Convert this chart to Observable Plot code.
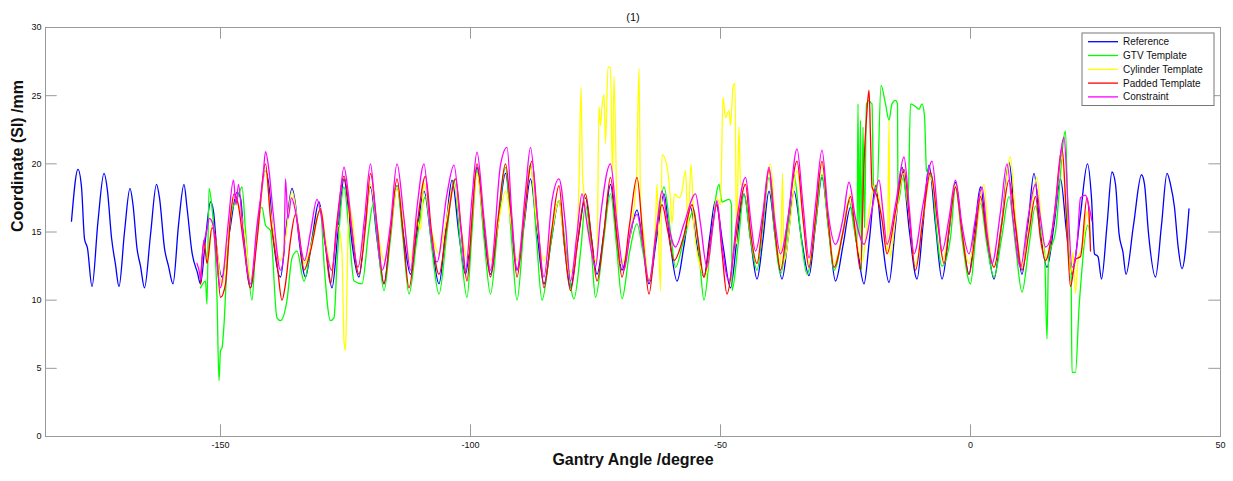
<!DOCTYPE html>
<html><head><meta charset="utf-8">
<script src="https://cdn.jsdelivr.net/npm/d3@7"></script>
<script src="https://cdn.jsdelivr.net/npm/@observablehq/plot@0.6"></script>
<style>body{margin:0;background:#fff;}</style>
</head><body><div id="chart"></div>
<script>
const titleText = "(1)";
const xLabel = "Gantry Angle /degree";
const yLabel = "Coordinate (SI) /mm";
const angleTicks = [-150, -100, -50, 0, 50];
const angleTickLabels = ["-150", "-100", "-50", "0", "50"];
const coordTicks = [0, 5, 10, 15, 20, 25, 30];
const coordTickLabels = ["0", "5", "10", "15", "20", "25", "30"];
const seriesNames = ["Reference", "GTV Template", "Cylinder Template", "Padded Template", "Constraint"];

const reference = [[-179.8,15.8],[-178.5,19.6],[-177.8,18.3],[-177.2,14.5],[-176.6,13.8],[-175.7,11.0],[-174.5,15.8],[-173.3,19.3],[-172.6,18.0],[-171.8,14.6],[-171.0,12.6],[-170.3,11.0],[-169.2,15.0],[-168.1,18.2],[-167.5,17.0],[-166.7,13.8],[-166.0,12.5],[-165.2,10.9],[-164.0,14.8],[-162.8,18.5],[-162.2,17.5],[-161.2,13.8],[-160.4,12.5],[-159.5,11.2],[-158.4,15.5],[-157.3,18.5],[-156.7,16.8],[-155.7,13.5],[-154.6,12.0],[-154.0,11.2],[-153.0,14.5],[-152.0,17.2],[-151.4,16.5],[-150.8,14.0],[-149.7,11.7],[-148.2,15.0],[-146.7,17.9],[-146.0,17.5],[-145.3,14.5],[-144.0,10.9],[-142.5,15.5],[-141.0,19.5],[-140.2,18.0],[-139.5,14.8],[-138.0,11.7],[-136.8,15.5],[-135.7,18.2],[-135.0,17.0],[-134.3,14.5],[-133.0,11.7],[-131.7,14.5],[-130.3,17.2],[-129.0,14.0],[-127.7,10.9],[-126.5,15.0],[-125.3,18.9],[-124.5,17.0],[-123.8,14.5],[-122.3,11.7],[-121.2,15.0],[-120.0,18.3],[-118.7,14.5],[-117.3,11.2],[-116.0,15.0],[-114.7,18.4],[-113.3,14.5],[-112.0,11.9],[-110.7,15.0],[-109.3,18.0],[-107.8,14.3],[-106.3,11.2],[-105.0,15.0],[-103.7,18.8],[-102.3,14.8],[-101.0,11.9],[-99.8,15.5],[-98.7,19.75],[-97.3,15.0],[-96.0,11.9],[-94.5,15.5],[-93.0,19.3],[-91.8,15.5],[-90.7,12.2],[-89.3,15.5],[-88.0,18.9],[-86.7,15.0],[-85.3,11.2],[-83.8,14.5],[-82.3,17.3],[-81.2,14.0],[-80.0,10.9],[-78.5,14.5],[-77.0,17.5],[-75.8,14.5],[-74.7,11.9],[-73.3,15.0],[-72.0,18.5],[-70.8,14.8],[-69.7,12.2],[-68.2,14.5],[-66.7,16.6],[-65.5,14.0],[-64.3,11.2],[-62.8,14.5],[-61.3,17.8],[-60.0,14.0],[-58.7,11.4],[-57.3,14.0],[-56.0,16.8],[-54.7,14.0],[-53.3,11.7],[-52.2,14.5],[-51.0,17.3],[-49.5,14.0],[-48.0,10.9],[-46.7,14.5],[-45.3,17.8],[-44.0,14.5],[-42.7,11.55],[-41.5,14.5],[-40.3,18.0],[-39.0,14.5],[-37.7,11.55],[-36.5,14.5],[-35.3,18.0],[-33.8,14.5],[-32.3,11.8],[-31.0,15.5],[-29.7,19.0],[-28.3,15.0],[-27.0,11.4],[-25.5,14.0],[-24.0,16.8],[-22.7,14.0],[-21.3,11.2],[-20.2,14.5],[-19.0,18.4],[-17.7,14.5],[-16.3,11.3],[-15.0,15.5],[-13.7,19.75],[-12.2,15.0],[-10.7,11.55],[-9.5,15.5],[-8.3,19.9],[-7.0,15.5],[-5.7,11.55],[-4.3,15.0],[-3.0,18.65],[-1.7,15.0],[-0.3,11.9],[0.8,15.0],[2.0,18.3],[3.3,14.5],[4.7,11.55],[6.2,15.5],[7.7,20.1],[9.0,15.5],[10.3,11.9],[11.5,15.5],[12.7,19.3],[14.0,15.0],[15.3,12.4],[16.7,15.5],[18.0,18.9],[19.2,15.0],[20.3,11.9],[21.9,16.0],[23.4,20.0],[24.2,17.5],[24.8,13.4],[25.5,13.2],[26.2,11.55],[27.3,15.5],[28.3,19.4],[29.0,18.5],[29.7,14.9],[30.5,13.5],[31.1,11.9],[32.6,15.5],[34.2,19.2],[34.8,18.5],[35.6,14.9],[37.0,11.7],[38.2,15.5],[39.3,19.3],[40.0,18.5],[40.8,16.8],[41.5,14.0],[42.3,12.3],[43.7,16.7]];

const gtvTemplate = [[-154.0,10.9],[-153.0,11.4],[-152.7,9.7],[-152.3,18.2],[-151.7,16.8],[-151.3,15.1],[-150.7,10.2],[-150.3,4.1],[-150.0,6.3],[-149.7,6.5],[-149.3,8.2],[-148.7,12.7],[-147.7,16.6],[-146.7,17.4],[-145.7,18.3],[-145.0,15.1],[-143.7,10.0],[-143.0,13.9],[-141.7,16.8],[-141.0,15.5],[-140.0,15.1],[-138.7,8.7],[-138.0,8.5],[-136.7,10.0],[-135.7,13.1],[-134.7,13.6],[-133.3,11.4],[-131.7,14.4],[-130.0,16.6],[-129.3,12.7],[-128.0,8.5],[-127.3,8.7],[-126.7,12.7],[-125.3,18.3],[-124.3,15.1],[-123.3,11.4],[-121.7,11.2],[-120.3,15.3],[-119.5,17.0],[-118.5,14.0],[-117.3,10.7],[-116.0,14.5],[-114.7,18.3],[-113.5,14.5],[-112.3,10.45],[-110.7,14.5],[-109.0,17.6],[-107.8,14.0],[-106.3,10.45],[-104.7,15.0],[-103.3,18.8],[-102.0,14.0],[-100.7,10.2],[-99.7,15.0],[-98.7,19.5],[-97.3,14.5],[-96.0,10.45],[-94.5,15.5],[-93.0,19.75],[-91.8,14.5],[-90.7,10.0],[-89.3,15.5],[-88.0,20.0],[-86.8,14.5],[-85.7,10.0],[-84.0,14.0],[-82.3,17.3],[-81.0,14.0],[-79.3,10.1],[-78.0,13.5],[-77.0,17.0],[-75.8,13.5],[-75.0,10.2],[-73.5,14.0],[-72.0,17.8],[-70.8,14.0],[-69.7,10.1],[-68.2,13.5],[-66.7,15.6],[-65.5,13.5],[-64.3,11.4],[-62.8,15.0],[-61.3,18.3],[-60.0,15.0],[-59.0,12.4],[-57.3,14.5],[-55.3,16.6],[-54.3,13.5],[-53.3,10.0],[-52.0,14.0],[-50.3,18.5],[-49.7,17.2],[-48.3,17.4],[-47.8,17.0],[-47.7,10.7],[-46.5,14.0],[-45.3,17.8],[-44.0,14.5],[-42.7,12.2],[-41.5,15.5],[-40.3,19.0],[-39.2,15.0],[-38.0,11.9],[-36.5,15.5],[-35.3,19.2],[-34.0,15.0],[-32.7,11.9],[-31.0,15.5],[-29.7,19.2],[-28.5,15.5],[-27.3,12.2],[-25.5,15.0],[-24.3,17.3],[-23.3,15.3],[-22.7,14.1],[-22.5,24.4],[-22.3,14.8],[-22.0,23.2],[-21.8,12.2],[-21.5,22.7],[-21.2,15.3],[-20.8,24.4],[-20.3,24.65],[-20.0,24.5],[-19.7,24.4],[-19.4,18.5],[-18.7,18.0],[-17.9,25.75],[-17.0,24.4],[-16.3,23.2],[-15.7,24.4],[-15.0,24.65],[-14.6,24.4],[-14.5,17.1],[-13.5,19.0],[-12.5,17.0],[-12.0,24.4],[-11.0,24.2],[-10.3,24.0],[-9.7,24.4],[-9.2,23.5],[-8.8,19.5],[-7.7,19.0],[-7.0,16.0],[-5.7,12.5],[-4.0,14.6],[-3.0,18.3],[-1.7,14.5],[0.0,11.2],[1.0,14.5],[2.0,17.1],[3.3,14.0],[4.7,11.7],[6.2,14.5],[7.7,17.6],[9.0,14.0],[10.3,10.6],[11.7,14.0],[13.0,16.9],[14.0,15.0],[14.8,13.6],[15.3,7.15],[15.6,13.0],[17.0,15.0],[19.0,22.4],[19.7,13.1],[20.1,12.3],[20.3,4.7],[21.0,4.7],[21.7,9.4],[22.3,12.3],[22.7,14.0],[23.5,15.5],[24.0,14.5]];

const cylinderTemplate = [[-154.0,11.5],[-153.3,14.0],[-152.5,13.0],[-151.7,15.5],[-150.8,14.0],[-149.7,11.0],[-148.5,14.5],[-147.3,17.5],[-146.0,16.5],[-145.0,14.5],[-144.0,11.5],[-142.5,15.1],[-141.0,19.5],[-140.0,16.5],[-138.0,12.9],[-137.0,14.5],[-135.7,18.0],[-134.5,15.5],[-133.3,12.7],[-131.5,14.5],[-130.0,16.8],[-129.0,14.5],[-127.7,12.2],[-126.5,15.5],[-125.7,13.4],[-125.3,7.0],[-125.0,6.3],[-124.7,11.0],[-124.3,17.0],[-123.5,15.5],[-122.7,12.4],[-121.0,15.3],[-120.0,18.5],[-118.7,15.5],[-117.3,12.9],[-116.0,15.0],[-114.7,18.3],[-113.3,15.5],[-112.0,12.9],[-110.7,15.9],[-110.0,15.2],[-109.3,18.6],[-108.0,15.5],[-106.3,13.4],[-105.0,15.5],[-103.3,18.5],[-102.0,15.5],[-100.7,13.1],[-99.7,16.0],[-98.7,19.3],[-97.3,15.5],[-96.0,12.9],[-94.5,15.5],[-93.0,18.0],[-91.8,15.5],[-90.7,12.9],[-89.3,16.0],[-88.0,19.75],[-86.7,15.5],[-85.3,12.9],[-83.8,15.0],[-82.3,17.3],[-81.5,15.0],[-80.3,12.0],[-79.0,13.0],[-78.3,18.6],[-77.9,25.6],[-77.6,19.3],[-77.3,17.8],[-76.0,14.0],[-75.3,13.1],[-74.7,12.8],[-74.3,24.2],[-74.0,22.8],[-73.7,24.2],[-73.3,25.1],[-73.0,21.5],[-72.5,27.1],[-72.0,27.1],[-71.6,19.0],[-71.3,26.4],[-70.8,18.0],[-70.7,16.1],[-70.0,12.7],[-68.5,14.0],[-66.8,19.0],[-66.3,27.0],[-66.0,17.3],[-65.3,14.6],[-64.3,11.4],[-63.0,15.6],[-62.7,18.5],[-62.3,13.6],[-62.0,10.7],[-61.7,20.7],[-60.8,20.0],[-60.0,17.3],[-59.7,15.6],[-59.2,17.8],[-58.3,17.5],[-57.7,18.0],[-57.0,19.5],[-56.5,15.3],[-55.9,20.0],[-55.3,15.3],[-54.0,12.4],[-53.0,11.7],[-51.7,15.0],[-50.7,17.5],[-50.0,17.0],[-49.5,24.9],[-49.0,23.4],[-48.3,23.9],[-48.0,22.8],[-47.5,25.6],[-47.1,25.9],[-46.8,14.1],[-46.3,22.7],[-46.0,18.5],[-45.0,18.5],[-44.0,15.0],[-42.7,12.7],[-41.5,16.0],[-40.0,20.0],[-39.0,15.5],[-38.0,12.5],[-37.6,19.3],[-37.3,12.8],[-36.0,16.0],[-34.7,19.5],[-33.5,16.0],[-32.3,12.7],[-31.0,16.0],[-29.7,20.0],[-28.5,16.0],[-27.3,12.7],[-25.5,15.0],[-24.0,17.8],[-23.0,15.0],[-21.7,12.8],[-20.5,16.0],[-19.0,18.5],[-17.7,16.0],[-16.6,13.5],[-16.3,23.2],[-16.1,13.1],[-15.0,16.0],[-13.3,19.3],[-12.2,16.0],[-11.0,12.5],[-9.5,16.0],[-8.0,19.0],[-6.5,15.5],[-5.5,13.0],[-4.2,15.5],[-3.0,18.5],[-1.7,15.0],[-0.3,12.7],[1.0,15.0],[2.7,18.5],[3.5,15.0],[4.7,12.4],[6.2,15.5],[8.0,20.5],[9.0,16.0],[10.3,12.4],[11.7,15.5],[13.3,19.0],[14.2,15.5],[15.0,13.0],[16.7,16.0],[18.3,20.5],[19.2,16.0],[20.0,12.0],[20.5,13.5],[21.0,10.5],[21.5,13.0],[22.5,14.0],[23.3,16.5],[24.0,14.5]];

const paddedTemplate = [[-154.0,11.2],[-153.3,14.4],[-152.7,12.7],[-151.7,15.3],[-151.0,14.6],[-150.0,10.2],[-149.0,11.2],[-148.0,16.1],[-147.3,17.8],[-146.5,17.1],[-145.3,13.9],[-144.0,10.9],[-142.7,14.4],[-141.0,20.0],[-140.0,16.0],[-138.7,12.7],[-137.7,10.0],[-137.0,11.2],[-136.0,14.4],[-135.0,16.3],[-134.3,15.0],[-133.3,12.2],[-132.0,13.6],[-130.0,16.7],[-129.0,14.0],[-128.0,11.2],[-126.7,15.8],[-125.3,19.1],[-124.0,15.8],[-122.3,11.9],[-121.0,15.4],[-120.0,19.3],[-118.7,15.5],[-117.3,11.2],[-116.0,15.0],[-114.7,18.9],[-113.5,15.0],[-112.3,10.9],[-110.7,15.5],[-109.0,19.1],[-107.8,15.0],[-106.3,11.9],[-104.7,15.5],[-103.0,18.9],[-101.8,15.0],[-100.7,11.4],[-99.7,16.0],[-98.7,20.0],[-97.3,15.5],[-96.0,11.7],[-94.5,16.0],[-93.0,20.0],[-91.8,16.0],[-90.7,11.7],[-89.3,16.0],[-87.7,20.2],[-86.5,15.5],[-85.3,10.9],[-83.8,15.0],[-82.3,18.4],[-81.2,14.0],[-80.0,10.7],[-78.5,14.5],[-77.0,17.8],[-75.8,14.5],[-74.7,11.4],[-73.3,15.0],[-72.0,19.0],[-70.8,15.0],[-69.7,11.7],[-68.2,15.5],[-66.7,19.0],[-65.5,14.5],[-64.3,10.45],[-63.0,14.5],[-61.7,17.0],[-60.5,15.0],[-59.3,12.9],[-57.5,14.5],[-55.7,17.0],[-54.5,14.5],[-53.3,11.7],[-52.0,14.5],[-50.7,17.0],[-49.7,13.5],[-48.7,10.45],[-47.0,14.5],[-45.0,18.5],[-44.0,15.0],[-42.7,12.7],[-41.5,16.0],[-40.3,19.6],[-39.2,15.5],[-38.0,12.2],[-36.5,16.0],[-34.7,20.2],[-33.5,16.0],[-32.3,12.4],[-31.0,16.0],[-29.7,20.2],[-28.5,16.0],[-27.3,12.4],[-25.5,15.0],[-24.0,17.6],[-23.0,14.9],[-22.0,12.2],[-21.3,20.0],[-20.7,23.9],[-20.3,25.4],[-20.0,21.95],[-19.7,18.3],[-18.7,17.6],[-17.7,15.9],[-16.7,13.4],[-15.0,16.5],[-13.3,19.6],[-12.2,16.0],[-11.0,12.2],[-9.5,16.0],[-8.0,19.4],[-6.5,15.5],[-5.3,12.7],[-4.2,15.5],[-3.0,18.3],[-1.7,15.0],[-0.3,11.9],[1.0,15.0],[2.0,17.6],[3.3,14.5],[4.7,12.4],[6.2,15.5],[7.7,18.8],[9.0,15.5],[10.3,12.2],[11.7,15.0],[13.0,17.6],[14.0,14.5],[15.0,12.9],[16.7,16.0],[18.3,21.2],[19.2,16.0],[20.0,11.0],[21.0,13.0],[22.0,13.2],[23.3,17.5],[23.7,16.4],[24.0,13.6]];

const constraint = [[-154.7,12.7],[-154.2,12.0],[-154.0,11.5],[-153.5,13.8],[-152.8,15.0],[-152.2,16.0],[-151.5,15.5],[-150.8,13.0],[-150.0,10.9],[-149.5,11.8],[-148.5,15.5],[-147.4,18.8],[-146.9,17.0],[-146.4,18.5],[-145.5,15.0],[-144.0,11.2],[-142.7,15.5],[-141.5,19.0],[-141.0,20.9],[-140.3,19.5],[-139.5,16.5],[-138.0,12.2],[-137.3,13.5],[-137.0,18.9],[-136.5,16.0],[-135.8,17.5],[-135.0,16.5],[-134.0,14.0],[-133.2,12.9],[-132.0,15.0],[-130.7,17.4],[-130.0,16.5],[-129.0,14.0],[-127.8,12.2],[-126.5,16.0],[-125.3,19.75],[-124.5,18.0],[-123.8,15.5],[-122.5,12.4],[-121.2,16.0],[-120.0,20.0],[-119.0,16.3],[-117.7,12.2],[-116.0,15.6],[-114.7,20.0],[-113.3,16.0],[-112.0,12.2],[-110.7,16.8],[-109.3,20.0],[-108.0,15.1],[-106.7,12.8],[-104.7,17.8],[-103.3,19.9],[-102.0,15.5],[-101.0,12.2],[-99.7,17.5],[-98.7,20.85],[-97.3,16.0],[-96.0,12.2],[-94.0,19.9],[-92.7,21.2],[-91.7,16.0],[-90.7,12.2],[-89.0,18.0],[-88.0,21.2],[-86.7,16.3],[-85.3,11.7],[-83.7,17.3],[-82.3,18.9],[-81.0,15.5],[-80.0,11.4],[-78.7,14.9],[-77.7,17.8],[-76.7,15.6],[-75.5,13.0],[-75.0,12.4],[-74.0,16.1],[-72.0,20.0],[-70.7,15.6],[-69.3,12.2],[-68.0,15.1],[-66.7,16.3],[-65.5,14.0],[-64.3,11.4],[-62.7,15.6],[-61.7,18.0],[-60.7,16.0],[-59.0,13.9],[-57.3,15.6],[-55.0,17.8],[-54.0,15.6],[-52.7,12.4],[-51.5,15.5],[-50.7,17.3],[-49.7,14.0],[-48.3,11.4],[-46.7,16.0],[-45.0,19.0],[-44.0,16.0],[-43.0,13.6],[-41.5,16.5],[-40.3,19.75],[-39.2,16.0],[-38.0,13.4],[-36.5,16.0],[-34.7,21.1],[-33.5,17.0],[-32.3,13.1],[-31.0,17.0],[-29.7,21.0],[-28.5,16.5],[-27.0,14.1],[-25.5,16.0],[-24.3,18.65],[-23.0,16.0],[-21.3,14.1],[-19.8,16.5],[-18.3,18.8],[-17.5,16.5],[-16.7,14.1],[-15.0,17.0],[-13.3,20.5],[-12.3,17.0],[-11.3,13.4],[-9.5,17.0],[-7.7,20.2],[-6.5,16.0],[-5.7,13.6],[-4.3,16.0],[-3.0,18.8],[-1.7,15.5],[-0.3,13.4],[1.0,16.0],[2.3,18.3],[3.3,15.0],[4.3,12.7],[6.0,16.5],[7.3,20.0],[8.5,16.0],[10.0,12.4],[11.5,16.0],[13.0,18.5],[14.0,16.0],[15.0,13.9],[16.0,14.5],[17.0,17.0],[18.7,21.95],[19.5,17.0],[20.3,12.4],[21.3,14.0],[22.0,17.5],[23.0,17.7],[23.6,17.0],[24.3,15.8]];

const seriesData = [reference, gtvTemplate, cylinderTemplate, paddedTemplate, constraint];

// ---- styling / layout ----
const W = 1233, H = 481, mL = 45, mR = 13, mT = 27, mB = 45;
const plotW = W - mL - mR, plotH = H - mT - mB;
const tickLen = 11.7;
const axisColor = "#9a9a9a";
const seriesColors = ["#0000ff", "#00ff00", "#ffff00", "#ff0000", "#ff00ff"];
const font = "'Liberation Sans', Arial, Helvetica, sans-serif";

const rows = seriesNames.flatMap((name, i) =>
  seriesData[i].map(([angle, coord]) => ({series: name, angle, coord})));

const xLabelMap = new Map(angleTicks.map((t, i) => [t, angleTickLabels[i]]));
const yLabelMap = new Map(coordTicks.map((t, i) => [t, coordTickLabels[i]]));

function legendMark(index, scales, values, dimensions) {
  const d = dimensions || {width: W, marginRight: mR, marginTop: mT};
  const boxW = 132, rowH = 13.8, boxH = rowH * seriesNames.length + 3.5;
  const x0 = d.width - d.marginRight - 6 - boxW, y0 = d.marginTop + 6;
  const g = d3.create("svg:g");
  g.append("rect").attr("x", x0).attr("y", y0).attr("width", boxW).attr("height", boxH)
    .attr("fill", "#fff").attr("stroke", "#777").attr("stroke-width", 1);
  seriesNames.forEach((name, i) => {
    const y = y0 + 8.7 + i * rowH;
    g.append("line").attr("x1", x0 + 6).attr("x2", x0 + 36).attr("y1", y).attr("y2", y)
      .attr("stroke", seriesColors[i]).attr("stroke-width", 1.3);
    g.append("text").attr("x", x0 + 41).attr("y", y).attr("dy", "0.35em")
      .attr("text-anchor", "start")
      .attr("font-size", 10).attr("fill", "#111").attr("font-family", font).text(name);
  });
  return g.node();
}

const chart = Plot.plot({
  width: W, height: H,
  marginLeft: mL, marginRight: mR, marginTop: mT, marginBottom: mB,
  style: {fontFamily: font, background: "#fff", color: "#111", overflow: "visible"},
  x: {domain: [-185, 50], label: null},
  y: {domain: [0, 30], label: null},
  color: {domain: seriesNames, range: seriesColors},
  marks: [
    Plot.frame({stroke: axisColor}),
    Plot.tickX(angleTicks, {x: d => d, stroke: axisColor, insetTop: plotH - tickLen}),
    Plot.tickX(angleTicks, {x: d => d, stroke: axisColor, insetBottom: plotH - tickLen}),
    Plot.tickY(coordTicks, {y: d => d, stroke: axisColor, insetRight: plotW - tickLen}),
    Plot.tickY(coordTicks, {y: d => d, stroke: axisColor, insetLeft: plotW - tickLen}),
    Plot.axisX(angleTicks, {tickSize: 0, tickPadding: 5, fontSize: 9, label: null, tickFormat: d => xLabelMap.get(d)}),
    Plot.axisY(coordTicks, {tickSize: 0, tickPadding: 4, fontSize: 9, label: null, tickFormat: d => yLabelMap.get(d)}),
    Plot.line(rows, {x: "angle", y: "coord", z: "series", stroke: "series", strokeWidth: 1.3, curve: "monotone-x"}),
    legendMark,
    Plot.text([titleText], {text: d => d, frameAnchor: "top", dy: -14, fontSize: 11}),
    Plot.text([xLabel], {text: d => d, frameAnchor: "bottom", dy: 28, fontSize: 16, fontWeight: "bold"}),
    Plot.text([yLabel], {text: d => d, frameAnchor: "left", dx: -28, rotate: -90, fontSize: 16, fontWeight: "bold"})
  ]
});
document.getElementById("chart").appendChild(chart);
</script>
</body></html>
